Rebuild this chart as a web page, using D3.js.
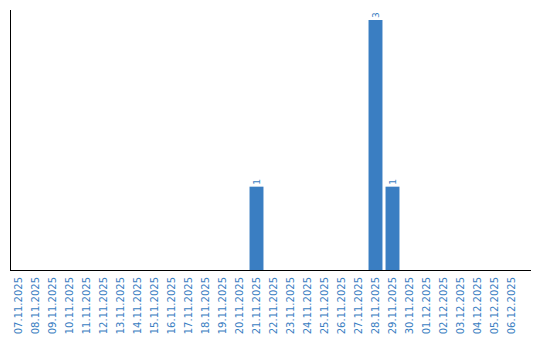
<!DOCTYPE html>
<html>
<head>
<meta charset="utf-8">
<script src="https://cdn.jsdelivr.net/npm/d3@7"></script>
<style>
  body { margin: 0; background: #fff; }
  svg { display: block; }
</style>
</head>
<body>
<div id="chart"></div>
<script>
// Data
const dates = [
  "07.11.2025", "08.11.2025", "09.11.2025", "10.11.2025", "11.11.2025",
  "12.11.2025", "13.11.2025", "14.11.2025", "15.11.2025", "16.11.2025",
  "17.11.2025", "18.11.2025", "19.11.2025", "20.11.2025", "21.11.2025",
  "22.11.2025", "23.11.2025", "24.11.2025", "25.11.2025", "26.11.2025",
  "27.11.2025", "28.11.2025", "29.11.2025", "30.11.2025", "01.12.2025",
  "02.12.2025", "03.12.2025", "04.12.2025", "05.12.2025", "06.12.2025"
];
const counts = [
  0, 0, 0, 0, 0, 0, 0, 0, 0, 0,
  0, 0, 0, 0, 1, 0, 0, 0, 0, 0,
  0, 3, 1, 0, 0, 0, 0, 0, 0, 0
];

const w = 540;
const h = 340;
const color = "#3a7ec2";

const svg = d3.select("#chart")
  .append("svg")
  .attr("width", w)
  .attr("height", h);

const xScale = d3.scaleBand()
  .domain(dates)
  .range([10, 520])
  .paddingInner(0.18)
  .paddingOuter(0.09);

const yScale = d3.scaleLinear()
  .domain([0, 3])
  .range([270, 20]);

const data = dates.map((d, i) => ({ date: d, value: counts[i] }));

// Bars
svg.selectAll("rect.bar")
  .data(data.filter(d => d.value > 0))
  .enter()
  .append("rect")
  .attr("class", "bar")
  .attr("x", d => xScale(d.date))
  .attr("y", d => yScale(d.value))
  .attr("width", xScale.bandwidth())
  .attr("height", d => yScale(0) - yScale(d.value))
  .style("fill", color);

// Value labels
svg.selectAll("text.val")
  .data(data.filter(d => d.value > 0))
  .enter()
  .append("text")
  .attr("class", "val")
  .attr("transform", d => `translate(${xScale(d.date) + xScale.bandwidth() / 2 + 3}, ${yScale(d.value) - 2}) rotate(-90)`)
  .style("font-family", "'DejaVu Sans', sans-serif")
  .style("font-size", "9px")
  .style("fill", color)
  .text(d => d.value);

// X axis
const xAxis = d3.axisBottom(xScale).tickSize(0).tickPadding(0);
const gx = svg.append("g")
  .attr("transform", `translate(0, ${yScale(0)})`)
  .call(xAxis);
gx.select(".domain").remove();
gx.append("line")
  .attr("x1", 10).attr("x2", 531)
  .attr("y1", 0.5).attr("y2", 0.5)
  .attr("stroke", "#000")
  .attr("stroke-width", 1);
gx.selectAll(".tick text")
  .attr("transform", "rotate(-90)")
  .attr("text-anchor", "end")
  .attr("x", -7)
  .attr("y", 0)
  .attr("dy", "0.35em")
  .style("font-family", "'DejaVu Sans', sans-serif")
  .style("font-size", "10px")
  .style("fill", color);

// Y axis line
svg.append("line")
  .attr("x1", 10.5).attr("x2", 10.5)
  .attr("y1", 10).attr("y2", yScale(0) + 1)
  .attr("stroke", "#000")
  .attr("stroke-width", 1);
</script>
</body>
</html>
